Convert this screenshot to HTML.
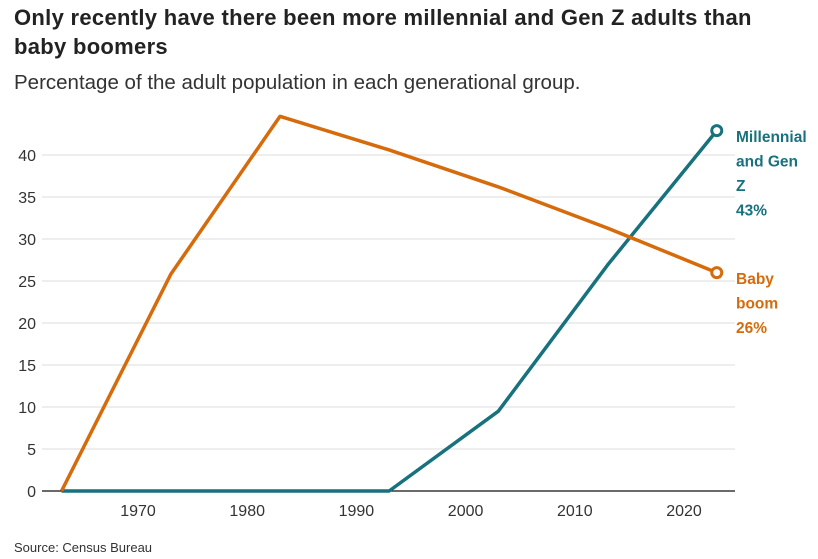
<!DOCTYPE html>
<html><head><meta charset="utf-8"><style>
body{margin:0;background:#fff;font-family:"Liberation Sans",Arial,sans-serif;}
.t{position:absolute;left:14px;top:3px;width:780px;font-size:22px;letter-spacing:0.3px;font-weight:bold;color:#222;line-height:29px;}
.s{position:absolute;left:14px;top:71px;font-size:20.5px;color:#333;}
.src{position:absolute;left:14px;top:540px;font-size:13px;color:#333;}
svg{position:absolute;left:0;top:0;}
</style></head><body>
<div class="t">Only recently have there been more millennial and Gen Z adults than baby boomers</div>
<div class="s">Percentage of the adult population in each generational group.</div>
<div class="src">Source: Census Bureau</div>
<svg id="c" width="818" height="559"></svg>
<script>
const years=[1963,1973,1983,1993,2003,2013,2023];
const boomers=[0,25.8,44.6,40.6,36.2,31.3,26];
const millennials=[0,0,0,0,9.5,26.9,42.9];
const yTicks=[0,5,10,15,20,25,30,35,40];
const xTicks=[1970,1980,1990,2000,2010,2020];
const ns="http://www.w3.org/2000/svg";
const svg=document.getElementById('c');
const X=v=>138+(v-1970)*10.92;
const Y=v=>491-v*8.4;
function mk(t,a,p){const e=document.createElementNS(ns,t);for(const k in a)e.setAttribute(k,a[k]);(p||svg).appendChild(e);return e;}
yTicks.forEach(v=>{
 const l=mk('line',{x1:42,x2:735,y1:Y(v),y2:Y(v),stroke:v===0?'#111':'#ddd','stroke-width':v===0?1.3:1});
 
 
 const t=mk('text',{x:36,y:Y(v)+6,'text-anchor':'end','font-size':16,fill:'#333'});
 t.textContent=v;
 
 
});
xTicks.forEach(v=>{
 const t=mk('text',{x:X(v),y:516,'text-anchor':'middle','font-size':16,fill:'#333'});
 t.textContent=v;
 
 
});
function series(vals,col,name){
 const p=mk('polyline',{points:vals.map((v,i)=>X(years[i])+','+Y(v)).join(' '),fill:'none',stroke:col,'stroke-width':3.5,'stroke-linejoin':'round'});
 
 
 const n=vals.length-1;
 const c=mk('circle',{cx:X(years[n]),cy:Y(vals[n]),r:5,fill:'#fff',stroke:col,'stroke-width':3});
 
 
}
series(millennials,'#17727e','millennial');
series(boomers,'#d66b0c','boomer');
function label(lines,y0,col,name){
 const t=mk('text',{x:736,y:y0,'font-size':15.5,'font-weight':'bold',fill:col});
 
 
 lines.forEach((s,i)=>{const ts=mk('tspan',{x:736,dy:i?24.5:0},t);ts.textContent=s;});
}
label(['Millennial','and Gen','Z','43%'],142,'#17727e','millennial-label');
label(['Baby','boom','26%'],284,'#d66b0c','boomer-label');
</script>
</body></html>
